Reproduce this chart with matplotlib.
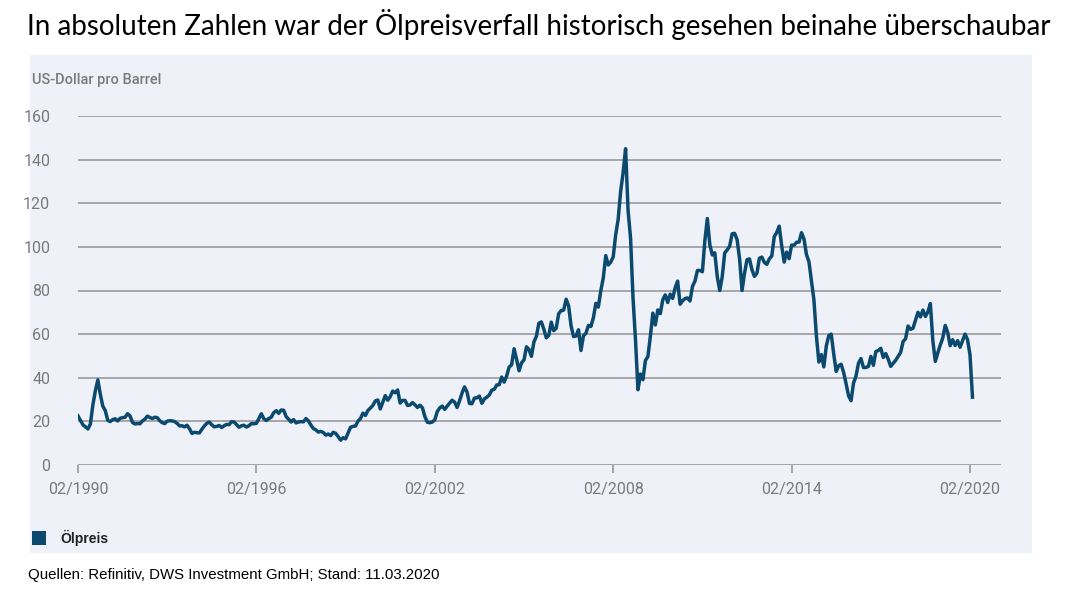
import matplotlib
matplotlib.use("Agg")
import matplotlib.pyplot as plt
from matplotlib.patches import Rectangle
import numpy as np

title = "In absoluten Zahlen war der Ölpreisverfall historisch gesehen beinahe überschaubar"
y_label = "US-Dollar pro Barrel"
series_name = "Ölpreis"
source = "Quellen: Refinitiv, DWS Investment GmbH; Stand: 11.03.2020"

start_year = 1990
start_month = 2
# monthly oil price (US-Dollar pro Barrel), 02/1990 .. 03/2020
prices = [
    # 1990 Feb-Dec
    22.5, 20.4, 18.4, 17.5, 16.5, 18.8, 27.5, 34.0, 39.0, 32.5, 27.0,
    # 1991
    25.0, 20.5, 19.9, 20.8, 21.2, 20.2, 21.4, 21.7, 21.9, 23.5, 22.5, 19.5,
    # 1992
    18.8, 19.0, 18.9, 20.2, 21.0, 22.4, 21.8, 21.3, 21.9, 21.7, 20.3, 19.4,
    # 1993
    19.0, 20.1, 20.3, 20.2, 19.9, 19.1, 17.9, 18.0, 17.5, 18.2, 16.6, 14.5,
    # 1994
    15.0, 14.8, 14.7, 16.4, 17.9, 19.1, 19.7, 18.4, 17.5, 17.7, 18.1, 17.2,
    # 1995
    18.0, 18.6, 18.5, 19.9, 19.7, 18.5, 17.3, 18.0, 18.2, 17.4, 18.0, 19.0,
    # 1996
    18.9, 19.1, 21.3, 23.5, 21.2, 20.4, 21.3, 21.9, 24.0, 24.9, 23.7, 25.2,
    # 1997
    25.1, 22.2, 21.0, 19.7, 20.8, 19.3, 19.7, 19.9, 19.8, 21.3, 20.2, 18.3,
    # 1998
    16.7, 16.1, 15.1, 15.4, 14.9, 13.7, 14.2, 13.5, 15.0, 14.5, 13.0, 11.4,
    # 1999
    12.5, 12.0, 14.7, 17.3, 17.7, 17.9, 20.1, 21.3, 23.8, 22.7, 25.0, 26.1,
    # 2000
    27.3, 29.4, 29.8, 25.7, 28.8, 31.8, 29.7, 31.3, 33.9, 33.1, 34.4, 28.4,
    # 2001
    29.6, 29.6, 27.3, 27.5, 28.6, 27.6, 26.4, 27.4, 26.2, 22.2, 19.6, 19.4,
    # 2002
    19.7, 20.7, 24.5, 26.2, 27.0, 25.5, 27.0, 28.4, 29.7, 28.8, 26.4, 29.5,
    # 2003
    33.0, 35.8, 33.5, 28.2, 28.1, 30.7, 30.8, 31.6, 28.3, 30.3, 31.1, 32.1,
    # 2004
    34.3, 34.7, 36.7, 36.8, 40.3, 38.0, 40.8, 44.9, 45.9, 53.3, 48.5, 43.2,
    # 2005
    46.8, 48.2, 54.2, 53.0, 49.8, 56.4, 59.0, 65.0, 65.6, 62.3, 58.3, 59.4,
    # 2006
    65.5, 61.6, 62.7, 69.4, 70.8, 71.0, 76.0, 73.0, 63.8, 58.9, 59.1, 62.0,
    # 2007
    52.5, 59.3, 60.4, 64.0, 63.5, 67.5, 74.1, 72.4, 79.9, 85.8, 96.0, 91.7,
    # 2008
    93.0, 95.4, 105.5, 112.6, 125.4, 134.0, 145.0, 116.7, 104.1, 76.6, 57.3, 34.5,
    # 2009
    41.7, 39.1, 47.9, 49.7, 59.0, 69.6, 64.2, 71.1, 69.4, 75.7, 78.0, 74.5,
    # 2010
    78.3, 76.4, 81.2, 84.3, 73.7, 75.3, 76.3, 76.6, 75.2, 81.9, 84.3, 89.2,
    # 2011
    89.2, 88.6, 102.9, 113.0, 100.9, 96.3, 97.3, 86.3, 80.0, 86.3, 97.2, 98.6,
    # 2012
    100.3, 106.0, 106.2, 103.3, 94.7, 80.0, 87.9, 94.1, 94.5, 89.5, 86.5, 87.9,
    # 2013
    94.8, 95.3, 92.9, 92.0, 94.5, 95.8, 104.7, 106.6, 109.5, 100.5, 93.0, 97.6,
    # 2014
    94.6, 100.8, 100.8, 102.1, 102.2, 106.5, 103.6, 96.5, 93.2, 84.4, 75.8, 59.3,
    # 2015
    47.2, 50.6, 45.0, 54.5, 59.3, 60.0, 50.9, 42.9, 45.5, 46.2, 42.4, 37.2,
    # 2016
    31.7, 29.5, 37.6, 40.8, 46.7, 48.8, 44.7, 44.7, 45.2, 49.8, 45.7, 52.0,
    # 2017
    52.5, 53.5, 49.3, 51.1, 48.5, 45.2, 46.6, 48.0, 49.8, 51.6, 56.6, 57.9,
    # 2018
    63.7, 62.2, 62.7, 66.3, 70.0, 67.9, 71.0, 68.1, 70.2, 74.0, 57.0, 47.5,
    # 2019
    51.4, 55.0, 58.2, 64.0, 60.8, 54.7, 57.4, 54.8, 57.0, 54.0, 57.0, 60.0,
    # 2020
    57.5, 50.5, 31.1,
]

tick_years = [1990, 1996, 2002, 2008, 2014, 2020]
tick_labels = ["02/1990", "02/1996", "02/2002", "02/2008", "02/2014", "02/2020"]
y_ticks = [0, 20, 40, 60, 80, 100, 120, 140, 160]

W, H = 1082, 590
fig = plt.figure(figsize=(W / 100, H / 100), dpi=100)
fig.patch.set_facecolor("white")

# panel background
bg = fig.add_axes([30 / W, 1 - 553 / H, (1032 - 30) / W, (553 - 55) / H], zorder=0)
bg.set_facecolor("#EEF2F8")
bg.set_xticks([]); bg.set_yticks([])
for s in bg.spines.values():
    s.set_visible(False)

ax_left, ax_right = 78, 1001
ax_top, ax_bottom = 116, 465
ax = fig.add_axes([ax_left / W, 1 - ax_bottom / H, (ax_right - ax_left) / W, (ax_bottom - ax_top) / H],
                  zorder=1)
ax.set_facecolor("none")

x = np.array([start_year + (start_month - 1) / 12 + i / 12 for i in range(len(prices))])
ax.plot(x, prices, color="#0B4A6E", lw=2.5, solid_joinstyle="round", zorder=3)

tick_pos = [t + (start_month - 1) / 12 for t in tick_years]
span_px = 970 - 78
years_per_px = (tick_pos[-1] - tick_pos[0]) / span_px
ax.set_xlim(tick_pos[0], tick_pos[0] + (ax_right - ax_left) * years_per_px)
ax.set_ylim(0, 160)

for v in y_ticks:
    ax.axhline(v, color="#A0A0A4", lw=1.3, zorder=1)

for s in ax.spines.values():
    s.set_visible(False)

ax.set_yticks(y_ticks)
ax.set_yticklabels([str(v) for v in y_ticks])
ax.set_xticks(tick_pos)
ax.set_xticklabels(tick_labels)
ax.tick_params(axis="y", length=0, pad=20, labelsize=11.5, labelcolor="#7A7A7A")
ax.tick_params(axis="x", length=6, width=1.3, color="#A0A0A4", pad=6,
               labelsize=11.5, labelcolor="#7A7A7A")
for lab in ax.get_xticklabels() + ax.get_yticklabels():
    lab.set_family(["Roboto", "DejaVu Sans"])

fig.text(539 / W, 1 - 24 / H, title, ha="center", va="center",
         fontsize=20, family=["Lato", "DejaVu Sans"], color="black")
fig.text(32 / W, 1 - 80 / H, y_label, ha="left", va="center",
         fontsize=10.5, family=["Roboto", "DejaVu Sans"], color="#7A7A7A", fontweight="medium")

fig.patches.append(Rectangle((32 / W, 1 - 545 / H), 14 / W, 14 / H,
                             transform=fig.transFigure, facecolor="#0B4A6E",
                             edgecolor="none", zorder=5))
fig.text(60 / W, 1 - 538 / H, series_name, ha="left", va="center",
         fontsize=10, family=["Liberation Sans", "DejaVu Sans"], color="#222222",
         fontweight="bold")
fig.text(28 / W, 1 - 575 / H, source, ha="left", va="center",
         fontsize=10.8, family=["Liberation Sans", "DejaVu Sans"], color="black")

fig.savefig("out.png", dpi=100, facecolor="white")
